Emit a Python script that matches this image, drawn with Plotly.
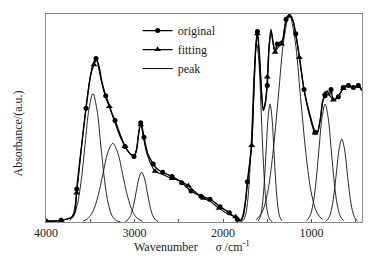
import plotly.graph_objects as go

# ---------------- data ----------------
orig_w = [4000, 3900, 3830, 3760, 3700, 3672, 3653, 3600, 3548, 3500, 3470, 3435, 3400, 3370,
          3325, 3290, 3260, 3220, 3160, 3107, 3050, 3006, 2980, 2955, 2930, 2910, 2893, 2850,
          2788, 2740, 2682, 2576, 2467, 2362, 2249, 2147, 2034, 1929, 1838, 1800, 1770, 1745,
          1725, 1700, 1676, 1650, 1630, 1612, 1590, 1565, 1545, 1525, 1500, 1480, 1458, 1435,
          1412, 1386, 1325, 1288, 1250, 1215, 1178, 1138, 1085, 1020, 960, 940, 900, 874, 847,
          822, 800, 780, 754, 697, 641, 584, 528, 472, 433]
orig_v = [0.5, 0.5, 0.8, 1.5, 2.5, 5, 16, 36, 55, 70, 76, 79, 75, 68,
          61, 57, 53, 49, 42, 36.5, 33, 31.7, 34, 42, 48, 45, 41, 33,
          28, 25.5, 24, 22, 19, 15, 12.5, 11, 7.4, 4.5, 1.2, 0.5, 4, 11,
          19.4, 28, 38, 66, 85, 92, 82, 62, 54, 57, 66, 84, 93, 87,
          82.7, 86, 88, 98, 100, 98, 91, 80, 64, 52, 43.4, 42.5, 50, 58.6, 61,
          63.5, 61, 64, 59, 60.5, 65, 66, 65, 66, 63.5]
orig_marked = [4000, 3830, 3653, 3548, 3435, 3325, 3220, 3107, 3006, 2930, 2893, 2788, 2682,
               2576, 2467, 2362, 2249, 2147, 2034, 1929, 1838, 1725, 1612, 1500, 1386, 1288,
               1178, 1085, 960, 847, 780, 697, 641, 584, 528, 472]

fit_w = [4000, 3830, 3720, 3690, 3653, 3600, 3548, 3500, 3458, 3430, 3380, 3325, 3285, 3220,
         3160, 3107, 3050, 3006, 2975, 2950, 2930, 2900, 2860, 2768, 2682, 2576, 2467, 2392,
         2300, 2220, 2147, 2045, 1950, 1857, 1800, 1770, 1725, 1700, 1676, 1650, 1630, 1612,
         1580, 1545, 1520, 1500, 1480, 1458, 1430, 1412, 1386, 1338, 1300, 1250, 1210, 1178,
         1138, 1085, 1020, 960, 934, 900, 874, 847, 822, 791, 754, 697, 641, 610, 584, 528,
         472, 433]
fit_v = [0.3, 0.8, 2, 4, 14, 36, 55, 70, 76, 78, 69, 60, 55.8, 48,
         41, 36.5, 33, 32, 36, 44, 47, 41, 33, 24.5, 23, 21, 19.5, 17.5,
         14, 11.5, 10, 6.6, 4, 2.5, 1, 3, 18, 28, 37, 64, 84, 91,
         74, 54, 58, 70, 85, 92, 85, 82, 84, 86, 95, 99.5, 97, 90,
         79.5, 64, 51, 43, 43, 50, 58, 62, 63, 61, 59, 61, 64.5, 66, 65.5, 65,
         65.5, 64]
fit_marked = [3830, 3653, 3458, 3285, 3107, 2930, 2768, 2576, 2392, 2220, 2045, 1857, 1676,
              1612, 1500, 1412, 1338, 1250, 1138, 960, 847, 754, 641, 472]

peaks_w = [
    [3734, 3690, 3646, 3602, 3558, 3514, 3470, 3426, 3382, 3338, 3294, 3250, 3206, 3160],
    [3582, 3526, 3470, 3414, 3358, 3302, 3246, 3190, 3134, 3078, 3022, 2966, 2910],
    [3105, 3074, 3043, 3012, 2981, 2950, 2919, 2888, 2857, 2826, 2795, 2764, 2733],
    [1793, 1768, 1743, 1718, 1693, 1668, 1643, 1618, 1593, 1568, 1543, 1518, 1493, 1468, 1443],
    [1601, 1579, 1557, 1535, 1513, 1491, 1469, 1447, 1425, 1403, 1381, 1359, 1337],
    [1625, 1562, 1500, 1438, 1375, 1312, 1250, 1188, 1125, 1062, 1000, 938, 875],
    [1057, 1022, 987, 952, 917, 882, 847, 812, 777, 742, 707, 672, 637],
    [838, 808, 778, 748, 718, 688, 658, 628, 598, 568, 538, 508, 478],
]
peaks_v = [
    [0.7, 2.7, 8.4, 20.1, 37.6, 54.7, 62, 54.7, 37.6, 20.1, 8.4, 2.7, 0.7, 0.1],
    [0.4, 1.7, 5.1, 12.3, 23.0, 33.5, 38, 33.5, 23.0, 12.3, 5.1, 1.7, 0.4],
    [0.3, 1.1, 3.2, 7.8, 14.6, 21.2, 24, 21.2, 14.6, 7.8, 3.2, 1.1, 0.3],
    [0.2, 1.0, 3.8, 11.6, 27.9, 52.2, 75.9, 86, 75.9, 52.2, 27.9, 11.6, 3.8, 1.0, 0.2],
    [0.6, 2.5, 7.7, 18.5, 34.6, 50.3, 57, 50.3, 34.6, 18.5, 7.7, 2.5, 0.6],
    [1.1, 4.4, 13.5, 32.5, 60.7, 88.3, 100, 88.3, 60.7, 32.5, 13.5, 4.4, 1.1],
    [0.6, 2.5, 7.7, 18.5, 34.6, 50.3, 57, 50.3, 34.6, 18.5, 7.7, 2.5, 0.6],
    [0.4, 1.8, 5.4, 13.0, 24.3, 35.3, 40, 35.3, 24.3, 13.0, 5.4, 1.8, 0.4],
]

tick_vals = [4000, 3500, 3000, 2500, 2000, 1500, 1000, 500]
tick_text = ["4000", "", "3000", "", "2000", "", "1000", ""]

FONT = "Liberation Serif, Times New Roman, serif"

fig = go.Figure()

# peaks
for pw, pv in zip(peaks_w, peaks_v):
    fig.add_trace(go.Scatter(x=pw, y=pv, mode="lines", line=dict(color="#111", width=0.9, shape="spline"),
                             showlegend=False, hoverinfo="skip"))

# fitting
fig.add_trace(go.Scatter(x=fit_w, y=fit_v, mode="lines", line=dict(color="black", width=1.1, shape="spline", smoothing=0.8),
                         showlegend=False))
fm = [(w, v) for w, v in zip(fit_w, fit_v) if w in fit_marked]
fig.add_trace(go.Scatter(x=[a for a, b in fm], y=[b for a, b in fm], mode="markers",
                         marker=dict(symbol="triangle-up", size=6, color="black"), showlegend=False))

# original
fig.add_trace(go.Scatter(x=orig_w, y=orig_v, mode="lines", line=dict(color="black", width=1.4, shape="spline", smoothing=0.8),
                         showlegend=False))
om = [(w, v) for w, v in zip(orig_w, orig_v) if w in orig_marked]
fig.add_trace(go.Scatter(x=[a for a, b in om], y=[b for a, b in om], mode="markers",
                         marker=dict(symbol="circle", size=5, color="black"), showlegend=False))

# legend entries
fig.add_trace(go.Scatter(x=[None], y=[None], mode="lines+markers", name="original",
                         line=dict(color="black", width=1.2), marker=dict(symbol="circle", size=5, color="black")))
fig.add_trace(go.Scatter(x=[None], y=[None], mode="lines+markers", name="fitting",
                         line=dict(color="black", width=1.2), marker=dict(symbol="triangle-up", size=6, color="black")))
fig.add_trace(go.Scatter(x=[None], y=[None], mode="lines", name="peak",
                         line=dict(color="black", width=1.0)))

fig.update_layout(
    width=378, height=261,
    margin=dict(l=46, r=16, t=14, b=39),
    paper_bgcolor="white", plot_bgcolor="white",
    font=dict(family=FONT, size=12, color="#222"),
    legend=dict(x=0.29, y=0.99, xanchor="left", yanchor="top", bgcolor="rgba(0,0,0,0)",
                font=dict(family=FONT, size=12), tracegroupgap=0, itemwidth=30),
    xaxis=dict(range=[4000, 430], showgrid=False, zeroline=False, showline=True, mirror=True,
               linecolor="#888", linewidth=1, ticks="inside", ticklen=3, tickcolor="#555",
               tickvals=tick_vals, ticktext=tick_text, tickfont=dict(family=FONT, size=12, color="#222")),
    yaxis=dict(range=[0, 100.5], showgrid=False, zeroline=False, showline=True, mirror=True,
               linecolor="#888", linewidth=1, showticklabels=False, ticks=""),
    annotations=[
        dict(text="Wavenumber\u00a0\u00a0\u00a0\u00a0\u00a0\u00a0<i>σ</i> /cm<sup>-1</sup>", xref="paper", yref="paper",
             x=(192 - 46) / 316, y=-(246 - 222) / 208, xanchor="center", yanchor="middle", showarrow=False,
             font=dict(family=FONT, size=12, color="#222")),
        dict(text="Absorbance/(a.u.)", xref="paper", yref="paper", textangle=-90,
             x=(17 - 46) / 316, y=(222 - 133.5) / 208, xanchor="center", yanchor="middle", showarrow=False,
             font=dict(family=FONT, size=12, color="#222")),
    ],
)

fig.write_html("out.html", config={"displayModeBar": False},
               post_script="document.body.style.margin='0';document.body.style.overflow='hidden';")
